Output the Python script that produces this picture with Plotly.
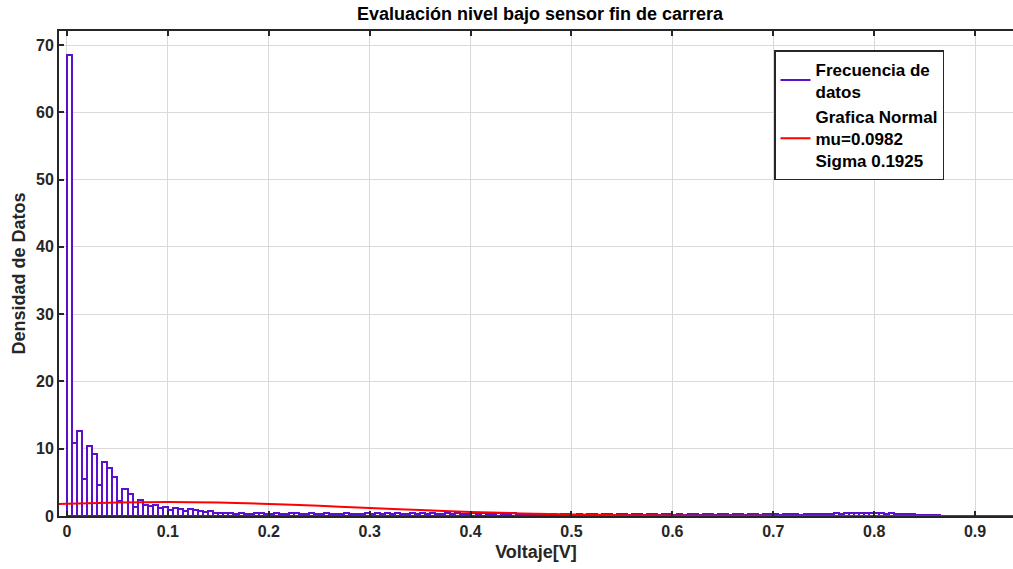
import plotly.graph_objects as go

# ---- data ----
bin_width = 0.005
bin_start = 0.0
densidad = [
    68.5, 10.9, 12.6, 5.5, 10.4, 9.2, 4.6, 8.1, 7.1, 5.8,
    2.2, 4.0, 3.2, 1.3, 2.4, 1.6, 1.5, 1.6, 1.2, 1.4,
    0.9, 1.2, 1.0, 0.8, 1.0, 0.9, 0.7, 0.6, 0.8, 0.5,
    0.5, 0.4, 0.5, 0.3, 0.45, 0.35, 0.3, 0.4, 0.45, 0.3,
    0.35, 0.45, 0.25, 0.35, 0.4, 0.45, 0.25, 0.35, 0.45, 0.35,
    0.25, 0.45, 0.35, 0.25, 0.35, 0.45, 0.35, 0.25, 0.35, 0.45,
    0.35, 0.45, 0.25, 0.45, 0.35, 0.45, 0.25, 0.35, 0.45, 0.35,
    0.45, 0.25, 0.45, 0.35, 0.25, 0.45, 0.35, 0.45, 0.35, 0.25,
    0.45, 0.35, 0.45, 0.25, 0.35, 0.45, 0.25, 0.35, 0.4, 0.3,
    0.25, 0.35, 0.1, 0.35, 0.2, 0.1, 0.35, 0.1, 0.25, 0.35,
    0.1, 0.35, 0.1, 0.25, 0.35, 0.1, 0.25, 0.35, 0.1, 0.25,
    0.35, 0.1, 0.25, 0.35, 0.1, 0.35, 0.25, 0.1, 0.35, 0.25,
    0.1, 0.35, 0.1, 0.25, 0.35, 0.1, 0.25, 0.35, 0.1, 0.35,
    0.25, 0.1, 0.35, 0.25, 0.1, 0.35, 0.25, 0.1, 0.35, 0.25,
    0.35, 0.15, 0.35, 0.25, 0.35, 0.15, 0.35, 0.25, 0.35, 0.35,
    0.25, 0.35, 0.4, 0.3, 0.4, 0.45, 0.4, 0.5, 0.4, 0.45,
    0.4, 0.45, 0.35, 0.4, 0.3, 0.35, 0.3, 0.25, 0.2, 0.2,
    0.1, 0.1, 0.1, 0.05,
]
bin_centers = [bin_start + bin_width * (i + 0.5) for i in range(len(densidad))]

# normal curve (mu=0.0982, sigma=0.1925) values
normal_x = [-0.01, 0.0, 0.05, 0.1, 0.15, 0.2, 0.25, 0.3, 0.35, 0.4, 0.45,
            0.5, 0.55, 0.6, 0.65, 0.7, 0.75, 0.8, 0.85, 0.9, 0.95]
normal_y = [1.78, 1.82, 1.99, 2.07, 1.99, 1.80, 1.52, 1.19, 0.88, 0.61, 0.39,
            0.24, 0.13, 0.07, 0.035, 0.016, 0.007, 0.003, 0.001, 0.0, 0.0]

x_ticks = [0, 0.1, 0.2, 0.3, 0.4, 0.5, 0.6, 0.7, 0.8, 0.9]
x_labels = ["0", "0.1", "0.2", "0.3", "0.4", "0.5", "0.6", "0.7", "0.8", "0.9"]
y_ticks = [0, 10, 20, 30, 40, 50, 60, 70]

PURPLE = "#5a10cc"
RED = "#ff0000"
FONT = "Liberation Sans, Arial, Helvetica, sans-serif"

fig = go.Figure()
fig.add_trace(go.Bar(
    x=bin_centers, y=densidad, width=bin_width,
    marker=dict(color="white", line=dict(color=PURPLE, width=2)),
    showlegend=False, hoverinfo="x+y",
))
fig.add_trace(go.Scatter(
    x=[None], y=[None], mode="lines", line=dict(color=PURPLE, width=2),
    name="Frecuencia de<br>datos",
))
fig.add_trace(go.Scatter(
    x=normal_x, y=normal_y, mode="lines", line=dict(color=RED, width=2, shape="spline"),
    name="Grafica Normal<br>mu=0.0982<br>Sigma 0.1925",
))

axis_common = dict(
    showgrid=True, gridcolor="#dadada", gridwidth=1,
    showline=True, linecolor="#262626", linewidth=2,
    ticks="inside", ticklen=5, tickwidth=1.5, tickcolor="#262626",
    zeroline=False,
    tickfont=dict(family=FONT, size=16, color="#262626", weight="bold"),
)

fig.update_layout(
    width=1013, height=569,
    margin=dict(l=59, r=0, t=31, b=53),
    paper_bgcolor="white", plot_bgcolor="white",
    bargap=0,
    title=dict(
        text="Evaluación nivel bajo sensor fin de carrera",
        x=540 / 1013, xanchor="center", xref="container",
        y=1 - 14 / 569, yanchor="middle", yref="container",
        font=dict(family=FONT, size=18, color="#000000", weight="bold"),
    ),
    xaxis=dict(
        axis_common,
        range=[-0.0079, 0.9376],
        tickvals=x_ticks, ticktext=x_labels,
        mirror="ticks",
        title=dict(text="Voltaje[V]", standoff=6,
                   font=dict(family=FONT, size=18, color="#262626", weight="bold")),
    ),
    yaxis=dict(
        axis_common,
        range=[0, 72.08],
        tickvals=y_ticks,
        mirror=False,
        title=dict(text="Densidad de Datos", standoff=6,
                   font=dict(family=FONT, size=18, color="#262626", weight="bold")),
    ),
    legend=dict(
        x=(774 - 59) / 954, y=(516 - 50) / 485, xanchor="left", yanchor="top",
        bgcolor="white", bordercolor="#262626", borderwidth=1.5,
        font=dict(family=FONT, size=17, color="#000000", weight="bold"),
        traceorder="normal", valign="middle",
    ),
)

fig.write_html("out.html")
